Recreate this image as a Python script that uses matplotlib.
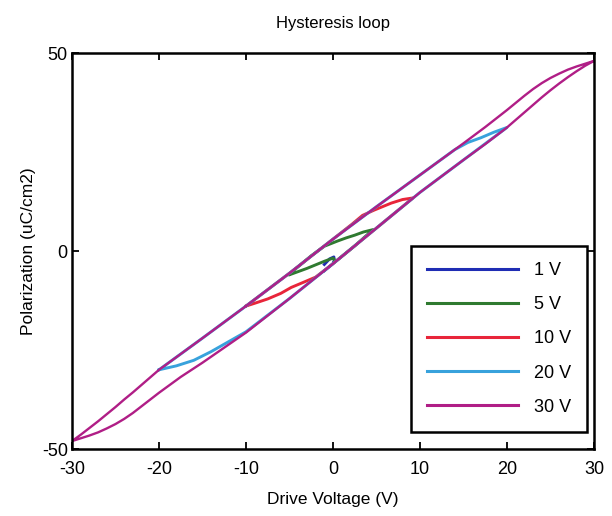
import matplotlib
matplotlib.use("Agg")
import matplotlib.pyplot as plt

plt.rcParams["font.family"] = ["Liberation Sans", "DejaVu Sans"]

# Drive voltage (V) and polarization (uC/cm2) for each loop amplitude
v_1 = [-1.0, -0.5, 0.0, 0.15, 0.1, -0.4, -1.0]
p_1 = [-5.0, -4.1, -3.2, -2.3, -1.5, -2.0, -3.4]

v_5 = [-5.0, -4.0, -3.0, -2.0, -1.0, 0.0, 0.2, 0.1, 1.0, 2.5, 4.6,
       3.5, 2.5, 1.5, 0.5, -1.0, -2.5, -5.0]
p_5 = [-6.0, -5.2, -4.4, -3.5, -2.6, -1.8, -2.3, -3.0, -1.4, 1.3, 5.4,
       4.8, 4.0, 3.3, 2.5, 1.2, -1.2, -5.8]

v_10 = [-10.0, -9.0, -7.5, -6.0, -4.8, -3.5, -2.0, 0.0, 5.0, 9.2,
        8.0, 6.7, 4.7, 3.4, 2.2, 0.0, -5.0, -10.0]
p_10 = [-13.9, -13.2, -12.1, -10.7, -9.2, -8.0, -6.6, -3.2, 5.8, 13.4,
        13.0, 12.1, 10.3, 9.0, 6.8, 3.0, -5.6, -13.9]

v_20 = [-20.0, -18.0, -16.0, -14.0, -12.0, -10.0, -5.0, 0.0, 5.0, 10.0, 15.0, 20.0,
        18.5, 17.0, 15.5, 14.0, 10.0, 5.0, 0.0, -5.0, -10.0, -15.0, -20.0]
p_20 = [-30.0, -29.0, -27.6, -25.4, -22.9, -20.4, -12.0, -3.2, 5.8, 14.8, 23.0, 31.2,
        30.0, 28.6, 27.4, 25.6, 19.2, 11.2, 3.0, -5.6, -13.9, -22.0, -30.0]

# 30 V: falling branch from +30 V to -30 V, then rising branch back to +30 V
v_30 = [30.0, 29.0, 28.0, 27.0, 26.0, 25.0, 24.0, 23.0, 22.0, 21.0, 20.0, 17.5,
        15.0, 10.0, 5.0, 0.0, -5.0, -10.0, -15.0, -17.5, -20.0, -21.0, -22.0,
        -23.0, -24.0, -25.0, -26.0, -27.0, -28.0, -29.0, -30.0,
        -29.0, -28.0, -27.0, -26.0, -25.0, -24.0, -23.0, -22.0, -21.0, -20.0,
        -17.5, -15.0, -10.0, -5.0, 0.0, 5.0, 10.0, 15.0, 17.5, 20.0, 21.0, 22.0,
        23.0, 24.0, 25.0, 26.0, 27.0, 28.0, 29.0, 30.0]
p_30 = [48.0, 47.3, 46.6, 45.8, 44.8, 43.7, 42.4, 40.9, 39.2, 37.4, 35.6, 31.3,
        27.2, 19.2, 11.2, 3.0, -5.6, -13.9, -22.0, -26.0, -30.0, -31.9, -33.8,
        -35.7, -37.5, -39.4, -41.2, -43.0, -44.7, -46.4, -48.0,
        -47.3, -46.6, -45.8, -44.8, -43.7, -42.4, -40.9, -39.2, -37.5, -35.8,
        -31.8, -28.2, -20.6, -12.0, -3.2, 5.8, 14.8, 23.0, 27.0, 31.2, 33.1, 35.0,
        36.9, 38.8, 40.6, 42.3, 43.9, 45.4, 46.8, 48.0]

series = [
    ("1 V", v_1, p_1, "#1f2db4"),
    ("5 V", v_5, p_5, "#2f7a30"),
    ("10 V", v_10, p_10, "#e8253a"),
    ("20 V", v_20, p_20, "#38a2dc"),
    ("30 V", v_30, p_30, "#b01e86"),
]

x_ticks = [-30, -20, -10, 0, 10, 20, 30]
y_ticks = [-50, 0, 50]

fig = plt.figure(figsize=(6.12, 5.16), dpi=100)
ax = fig.add_axes([72 / 612, 1 - 449 / 516, (594 - 72) / 612, (449 - 53) / 516])

for label, v, p, color in series:
    lw = 1.7 if label == "30 V" else 2.1
    ax.plot(v, p, color=color, lw=lw, label=label, solid_joinstyle="round")

ax.set_xlim(-30, 30)
ax.set_ylim(-50, 50)
ax.set_xticks(x_ticks)
ax.set_yticks(y_ticks)
ax.set_xticklabels([str(t) for t in x_ticks])
ax.set_yticklabels([str(t) for t in y_ticks])
ax.tick_params(direction="in", length=5, width=1.3, top=True, right=True,
               labelsize=13)
ax.tick_params(axis="x", pad=9)
ax.tick_params(axis="y", pad=3)
for s in ax.spines.values():
    s.set_linewidth(1.8)
    s.set_color("black")

ax.set_title("Hysteresis loop", fontsize=12, pad=18)
ax.set_xlabel("Drive Voltage (V)", fontsize=12.5, labelpad=10)
ax.set_ylabel("Polarization (uC/cm2)", fontsize=12.5, labelpad=4)

leg = ax.legend(loc="lower right", bbox_to_anchor=(0.987, 0.043), borderaxespad=0,
                fontsize=13, handlelength=5.0, handletextpad=0.9, labelspacing=0.95,
                borderpad=0.9, fancybox=False, framealpha=1, edgecolor="black")
leg.get_frame().set_linewidth(1.8)
for line in leg.get_lines():
    line.set_linewidth(2.2)

fig.savefig("out.png", dpi=100)
